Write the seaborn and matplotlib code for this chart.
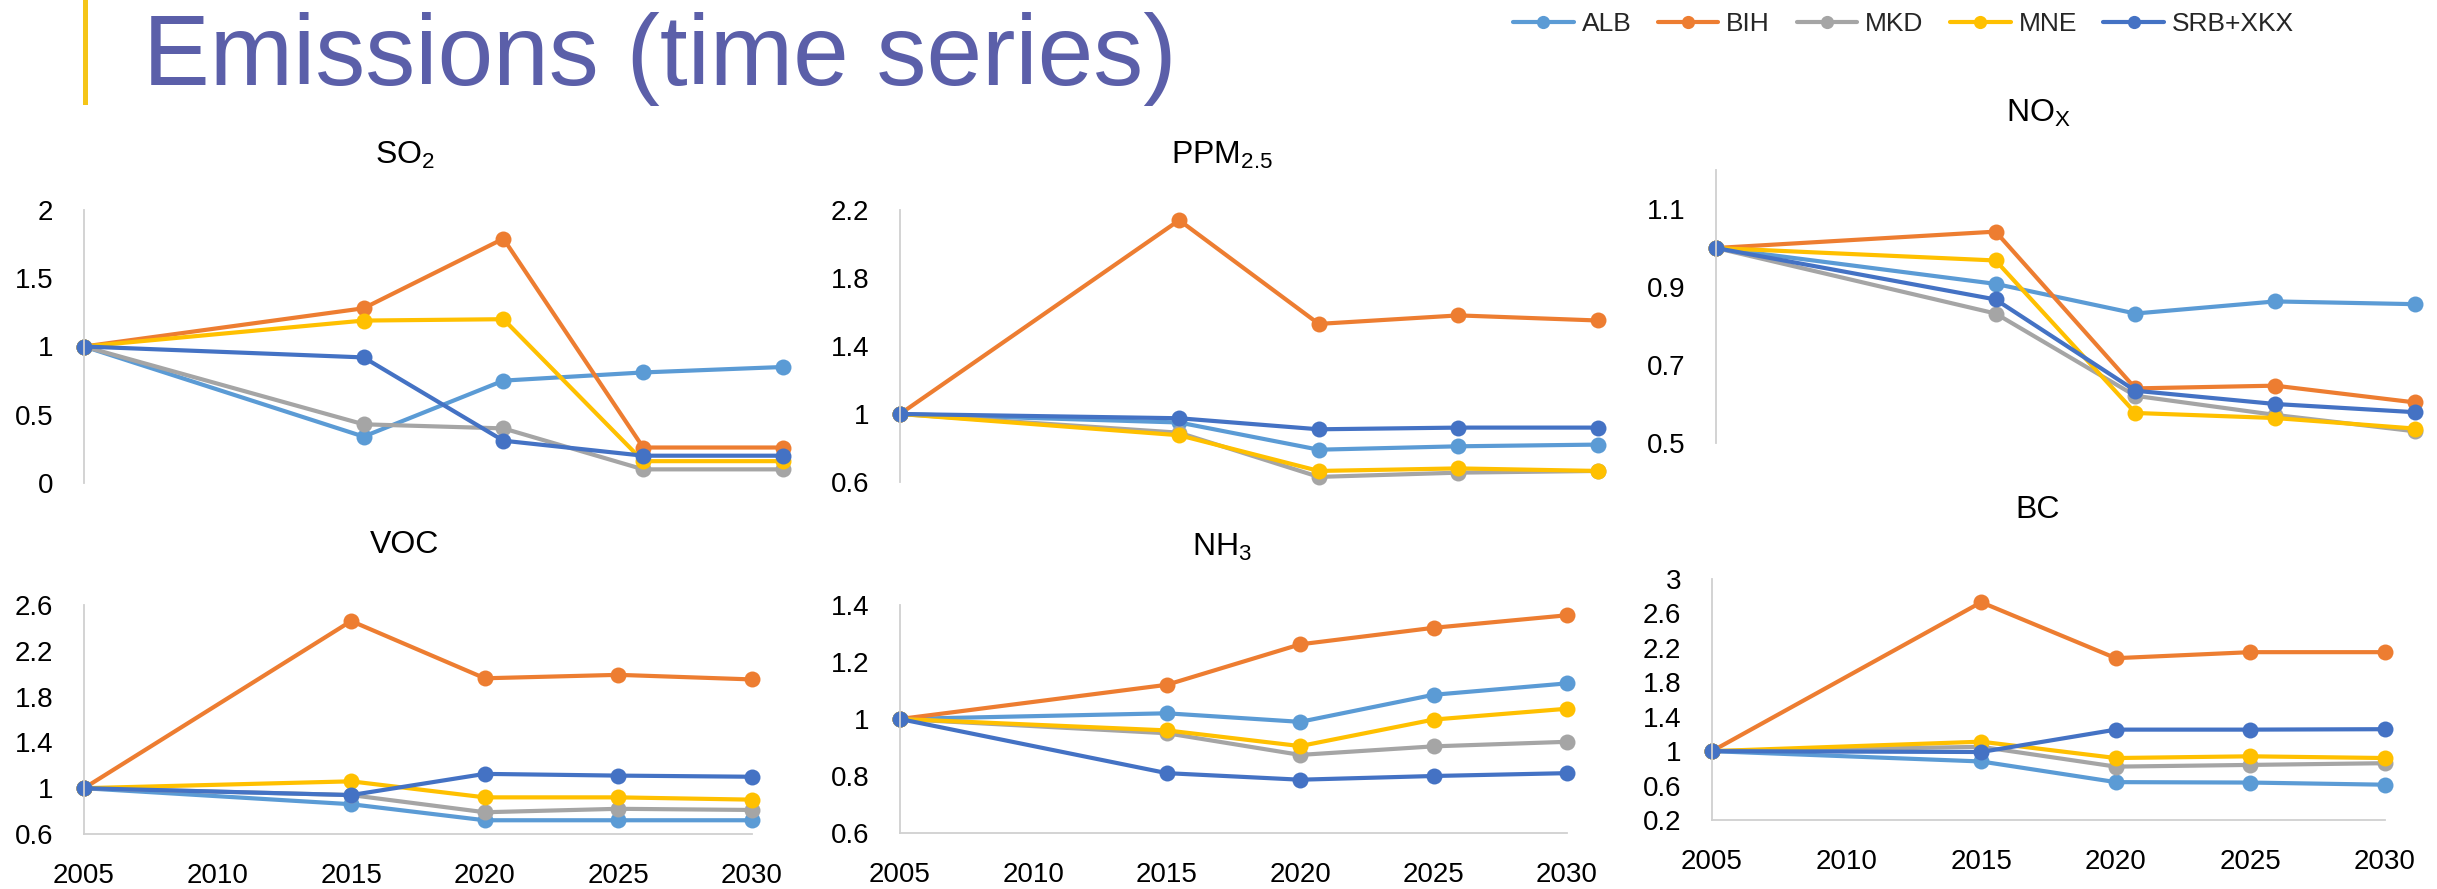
import matplotlib
matplotlib.use("Agg")
import matplotlib.pyplot as plt
from matplotlib.lines import Line2D
from matplotlib.patches import Rectangle
from matplotlib.ticker import FuncFormatter
import numpy as np
import pandas as pd
import seaborn as sns

# ---- data (index, 2005 = 1) ----
years = [2005, 2015, 2020, 2025, 2030]
countries = ["ALB", "BIH", "MKD", "MNE", "SRB+XKX"]

so2_alb = [1, 0.34, 0.75, 0.81, 0.85]
so2_bih = [1, 1.28, 1.79, 0.26, 0.26]
so2_mkd = [1, 0.43, 0.40, 0.10, 0.10]
so2_mne = [1, 1.19, 1.20, 0.16, 0.16]
so2_srb = [1, 0.92, 0.31, 0.20, 0.20]

pm25_alb = [1, 0.95, 0.79, 0.81, 0.82]
pm25_bih = [1, 2.14, 1.53, 1.58, 1.55]
pm25_mkd = [1, 0.89, 0.63, 0.655, 0.665]
pm25_mne = [1, 0.875, 0.665, 0.68, 0.665]
pm25_srb = [1, 0.975, 0.91, 0.92, 0.92]

nox_alb = [1, 0.908, 0.832, 0.863, 0.856]
nox_bih = [1, 1.042, 0.64, 0.647, 0.604]
nox_mkd = [1, 0.832, 0.621, 0.572, 0.53]
nox_mne = [1, 0.968, 0.577, 0.564, 0.537]
nox_srb = [1, 0.868, 0.634, 0.60, 0.579]

voc_alb = [1, 0.86, 0.72, 0.72, 0.72]
voc_bih = [1, 2.46, 1.96, 1.99, 1.95]
voc_mkd = [1, 0.94, 0.79, 0.82, 0.81]
voc_mne = [1, 1.06, 0.92, 0.92, 0.90]
voc_srb = [1, 0.94, 1.125, 1.11, 1.10]

nh3_alb = [1, 1.02, 0.99, 1.085, 1.125]
nh3_bih = [1, 1.12, 1.262, 1.32, 1.364]
nh3_mkd = [1, 0.95, 0.874, 0.904, 0.92]
nh3_mne = [1, 0.96, 0.905, 0.998, 1.036]
nh3_srb = [1, 0.81, 0.787, 0.80, 0.81]

bc_alb = [1, 0.88, 0.64, 0.635, 0.61]
bc_bih = [1, 2.73, 2.08, 2.15, 2.15]
bc_mkd = [1, 1.05, 0.82, 0.84, 0.86]
bc_mne = [1, 1.11, 0.92, 0.94, 0.92]
bc_srb = [1, 0.99, 1.25, 1.25, 1.255]

colors = ["#5B9BD5", "#ED7D31", "#A5A5A5", "#FFC000", "#4472C4"]
palette = dict(zip(countries, colors))

sns.set_theme(style="white")
plt.rcParams["font.family"] = ["Liberation Sans", "DejaVu Sans"]
plt.rcParams["mathtext.fontset"] = "custom"
plt.rcParams["mathtext.rm"] = "Liberation Sans"
plt.rcParams["mathtext.it"] = "Liberation Sans"
plt.rcParams["mathtext.bf"] = "Liberation Sans:bold"
plt.rcParams["mathtext.default"] = "regular"

W, H = 2437, 889
fig = plt.figure(figsize=(W / 100, H / 100), dpi=100)


def px_axes(x0, y0, x1, y1):
    """Axes from pixel box (left, top, right, bottom)."""
    return fig.add_axes([x0 / W, 1 - y1 / H, (x1 - x0) / W, (y1 - y0) / H])


def to_long(series):
    rows = []
    for c, vals in zip(countries, series):
        for yr, v in zip(years, vals):
            rows.append({"year": yr, "value": v, "country": c})
    return pd.DataFrame(rows)


panels = [
    ("SO$_2$", [so2_alb, so2_bih, so2_mkd, so2_mne, so2_srb],
     (84, 210, 783, 483), (0, 2), np.arange(0, 2.01, 0.5), False),
    ("PPM$_{2.5}$", [pm25_alb, pm25_bih, pm25_mkd, pm25_mne, pm25_srb],
     (900, 210, 1598, 482), (0.6, 2.2), np.arange(0.6, 2.21, 0.4), False),
    ("NO$_X$", [nox_alb, nox_bih, nox_mkd, nox_mne, nox_srb],
     (1716, 170, 2415, 443), (0.5, 1.2), np.arange(0.5, 1.11, 0.2), False),
    ("VOC", [voc_alb, voc_bih, voc_mkd, voc_mne, voc_srb],
     (84, 605, 752, 834), (0.6, 2.6), np.arange(0.6, 2.61, 0.4), True),
    ("NH$_3$", [nh3_alb, nh3_bih, nh3_mkd, nh3_mne, nh3_srb],
     (900, 605, 1567, 833), (0.6, 1.4), np.arange(0.6, 1.41, 0.2), True),
    ("BC", [bc_alb, bc_bih, bc_mkd, bc_mne, bc_srb],
     (1712, 579, 2385, 820), (0.2, 3.0), np.arange(0.2, 3.01, 0.4), True),
]

title_pos = [(405, 155), (1222, 155), (2038, 113), (405, 545), (1222, 547), (2038, 510)]
axis_grey = "#D0D0D0"

for (name, series, box, ylim, yticks, show_x), (tx, ty) in zip(panels, title_pos):
    ax = px_axes(*box)
    df = to_long(series)
    sns.lineplot(data=df, x="year", y="value", hue="country", palette=palette,
                 hue_order=countries, marker="o", markersize=11.5,
                 markeredgewidth=0, linewidth=3.0, legend=False, ax=ax,
                 clip_on=False)
    ax.set_xlim(2005, 2030)
    ax.set_ylim(*ylim)
    ax.set_yticks(yticks)
    ax.yaxis.set_major_formatter(FuncFormatter(lambda v, p: f"{v:.1f}".rstrip("0").rstrip(".")))
    ax.set_xlabel("")
    ax.set_ylabel("")
    for s in ["top", "right"]:
        ax.spines[s].set_visible(False)
    ax.spines["left"].set_color(axis_grey)
    ax.spines["left"].set_linewidth(1.3)
    ax.tick_params(axis="y", length=0, pad=22, labelsize=20, labelcolor="black")
    if show_x:
        ax.spines["bottom"].set_color(axis_grey)
        ax.spines["bottom"].set_linewidth(1.3)
        ax.set_xticks(np.arange(2005, 2031, 5))
        ax.tick_params(axis="x", direction="out", length=7, width=1.3,
                       color=axis_grey, pad=14, labelsize=20, labelcolor="black")
    else:
        ax.spines["bottom"].set_visible(False)
        ax.set_xticks([])
    fig.text(tx / W, 1 - ty / H, name, ha="center", va="center",
             fontsize=23, color="black")

# heading
fig.add_artist(Rectangle((83 / W, 1 - 105 / H), 5 / W, 105 / H,
                         transform=fig.transFigure, color="#F5C518", lw=0))
fig.text(143 / W, 1 - 85 / H, "Emissions (time series)", ha="left",
         va="baseline", fontsize=72, color="#5B5FA9")

# legend
handles = [Line2D([0], [0], color=c, lw=3.0, marker="o", markersize=9.5,
                  markeredgewidth=0) for c in colors]
fig.legend(handles, countries, loc="center left",
           bbox_to_anchor=(1513 / W, 1 - 24 / H), ncol=5, frameon=False,
           fontsize=19, handlelength=2.3, handletextpad=0.3,
           columnspacing=1.0, borderpad=0, borderaxespad=0)

fig.savefig("out.png", dpi=100)
